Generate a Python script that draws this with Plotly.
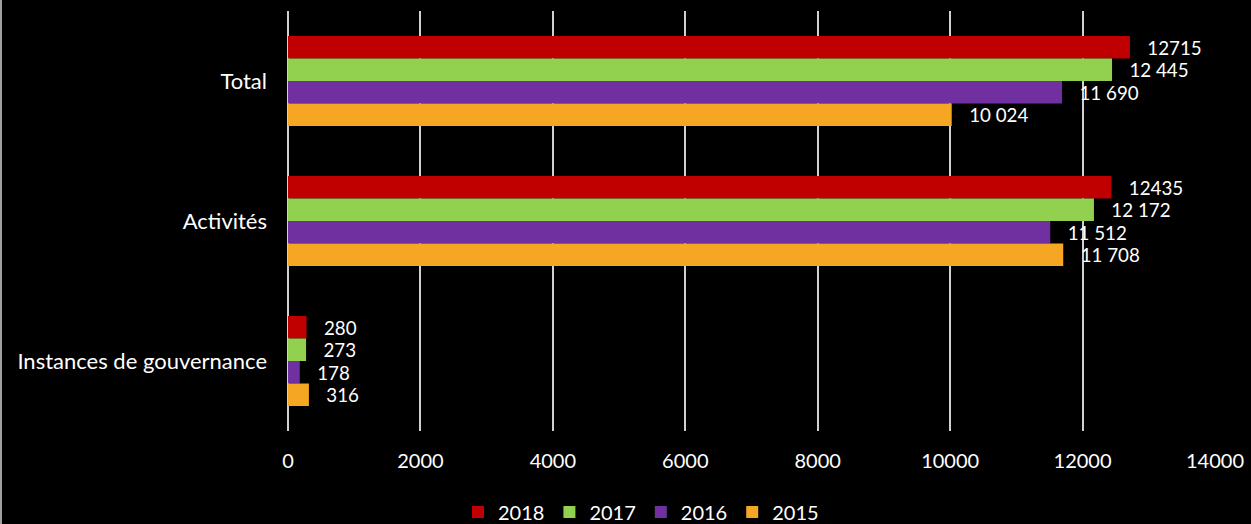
import plotly.graph_objects as go

categories = ["Total", "Activités", "Instances de gouvernance"]
years = ["2018", "2017", "2016", "2015"]
values_2018 = [12715, 12435, 280]
values_2017 = [12445, 12172, 273]
values_2016 = [11690, 11512, 178]
values_2015 = [10024, 11708, 316]
labels_2018 = ["12715", "12435", "280"]
labels_2017 = ["12 445", "12 172", "273"]
labels_2016 = ["11 690", "11 512", "178"]
labels_2015 = ["10 024", "11 708", "316"]
tick_vals = [0, 2000, 4000, 6000, 8000, 10000, 12000, 14000]
tick_text = ["0", "2000", "4000", "6000", "8000", "10000", "12000", "14000"]

series = [
    ("2018", values_2018, labels_2018, "#C00000"),
    ("2017", values_2017, labels_2017, "#92D050"),
    ("2016", values_2016, labels_2016, "#7030A0"),
    ("2015", values_2015, labels_2015, "#F5A623"),
]

FONT = "Lato, 'Open Sans', sans-serif"
PAD = "\u00a0\u00a0\u00a0"

fig = go.Figure()
for name, vals, labs, col in series:
    fig.add_trace(go.Bar(
        y=categories, x=vals, name=name, orientation="h",
        marker=dict(color=col, line=dict(width=0)),
        text=labs, texttemplate=PAD + "%{text}",
        textposition="outside", cliponaxis=False,
        textfont=dict(color="white", size=20, family=FONT),
    ))

W, H = 1251, 524
ml, mr, mt, mb = 288, 36, 11, 0
plot_bottom_px = 93
legend_center_px = 512
legend_center_x_px = 641
pw, ph = W - ml - mr, H - mt - mb

fig.update_layout(
    width=W, height=H,
    paper_bgcolor="black", plot_bgcolor="black",
    margin=dict(l=ml, r=mr, t=mt, b=mb, autoexpand=False),
    barmode="group", bargap=0.357, bargroupgap=0,
    font=dict(family=FONT, color="white", size=20),
    xaxis=dict(range=[0, 14000], tickvals=tick_vals, ticktext=tick_text,
               showgrid=True, automargin=False,
               gridcolor="#D0D0D0", gridwidth=2, zeroline=True,
               zerolinecolor="#D0D0D0", zerolinewidth=2,
               tickfont=dict(size=20, color="white"), ticks="",
               ticklabelstandoff=16),
    yaxis=dict(autorange="reversed", showgrid=False, ticks="", automargin=False,
               domain=[plot_bottom_px / ph, 1],
               tickfont=dict(size=22, color="white"), ticklabelstandoff=20),
    legend=dict(orientation="h", x=(legend_center_x_px - ml) / pw,
                xanchor="center", y=(H - legend_center_px) / ph,
                yanchor="middle", font=dict(size=20, color="white"),
                itemwidth=30, tracegroupgap=0, bgcolor="rgba(0,0,0,0)"),
    shapes=[dict(type="line", xref="paper", yref="paper",
                 x0=-(ml - 1) / pw, x1=-(ml - 1) / pw,
                 y0=0, y1=1 + mt / ph,
                 line=dict(color="#A0A0A0", width=2), layer="below")],
)

fig.write_html("out.html", config={"displayModeBar": False},
               post_script="document.body.style.margin='0';document.body.style.padding='0';")
